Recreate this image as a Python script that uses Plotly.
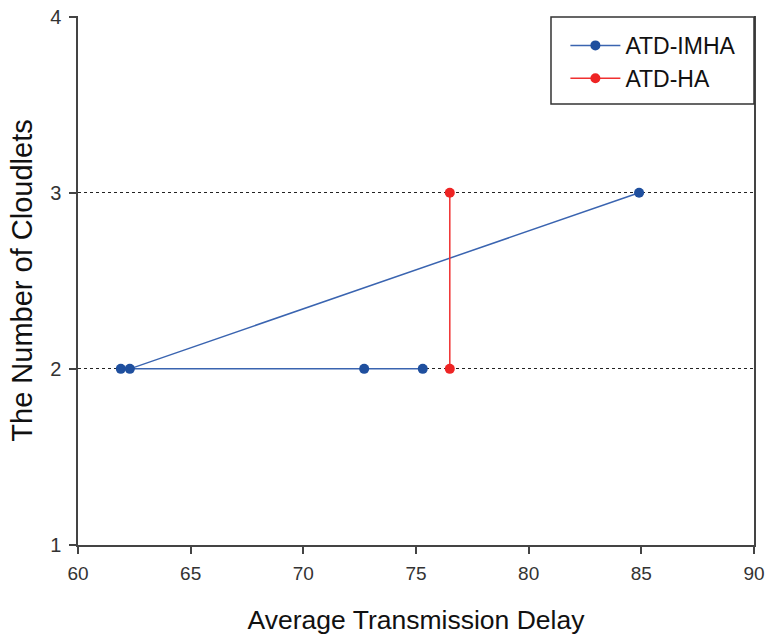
import plotly.graph_objects as go

# Data
imha_delay = [75.3, 72.7, 61.9, 62.3, 84.9]
imha_cloudlets = [2, 2, 2, 2, 3]
ha_delay = [76.5, 76.5]
ha_cloudlets = [2, 3]

x_ticks = [60, 65, 70, 75, 80, 85, 90]
y_ticks = [1, 2, 3, 4]

FONT = "Liberation Sans, Arial, sans-serif"

fig = go.Figure()
fig.add_trace(go.Scatter(
    x=imha_delay, y=imha_cloudlets, mode="lines+markers", name="ATD-IMHA",
    line=dict(color="#3a64b0", width=1.5),
    marker=dict(color="#1f4f9e", size=10),
))
fig.add_trace(go.Scatter(
    x=ha_delay, y=ha_cloudlets, mode="lines+markers", name="ATD-HA",
    line=dict(color="#f03030", width=1.5),
    marker=dict(color="#ee2424", size=10),
))

# legend frame (decoration, paper coordinates)
fig.add_shape(type="rect", xref="paper", yref="paper",
              x0=0.6997, x1=1.0, y0=0.8336, y1=0.998,
              line=dict(color="#333333", width=1.5), fillcolor="rgba(0,0,0,0)", layer="above")

fig.update_layout(
    width=767, height=637,
    margin=dict(l=78, r=13, t=16, b=92, autoexpand=False),
    paper_bgcolor="white", plot_bgcolor="white",
    font=dict(family=FONT, color="#222222"),
    showlegend=True,
    legend=dict(
        x=0.721, y=0.985, xanchor="left", yanchor="top",
        borderwidth=0, bgcolor="rgba(0,0,0,0)",
        font=dict(size=23, family=FONT, color="#111111"),
        tracegroupgap=0, itemwidth=50,
    ),
    xaxis=dict(
        range=[60, 90], tickvals=x_ticks, ticktext=[str(v) for v in x_ticks],
        showline=True, linecolor="#444444", linewidth=1.5, mirror=False,
        ticks="outside", ticklen=7, tickcolor="#444444", tickwidth=1.5,
        showgrid=False, zeroline=False, automargin=False,
        ticklabelstandoff=3,
        tickfont=dict(size=19, family=FONT, color="#333333"),
        title=dict(text="Average Transmission Delay", font=dict(size=26.5, family=FONT, color="#111111"), standoff=28),
    ),
    yaxis=dict(
        range=[1, 4.003], tickvals=y_ticks, ticktext=[str(v) for v in y_ticks],
        showline=True, linecolor="#444444", linewidth=1.5, mirror=True,
        ticks="outside", ticklen=7, tickcolor="#444444", tickwidth=1.5,
        showgrid=True, gridcolor="#222222", griddash="dot", gridwidth=1,
        zeroline=False, automargin=False,
        ticklabelstandoff=4,
        tickfont=dict(size=20, family=FONT, color="#333333"),
        title=dict(text="The Number of Cloudlets", font=dict(size=29, family=FONT, color="#111111"), standoff=9),
    ),
)

fig.write_html("out.html")
